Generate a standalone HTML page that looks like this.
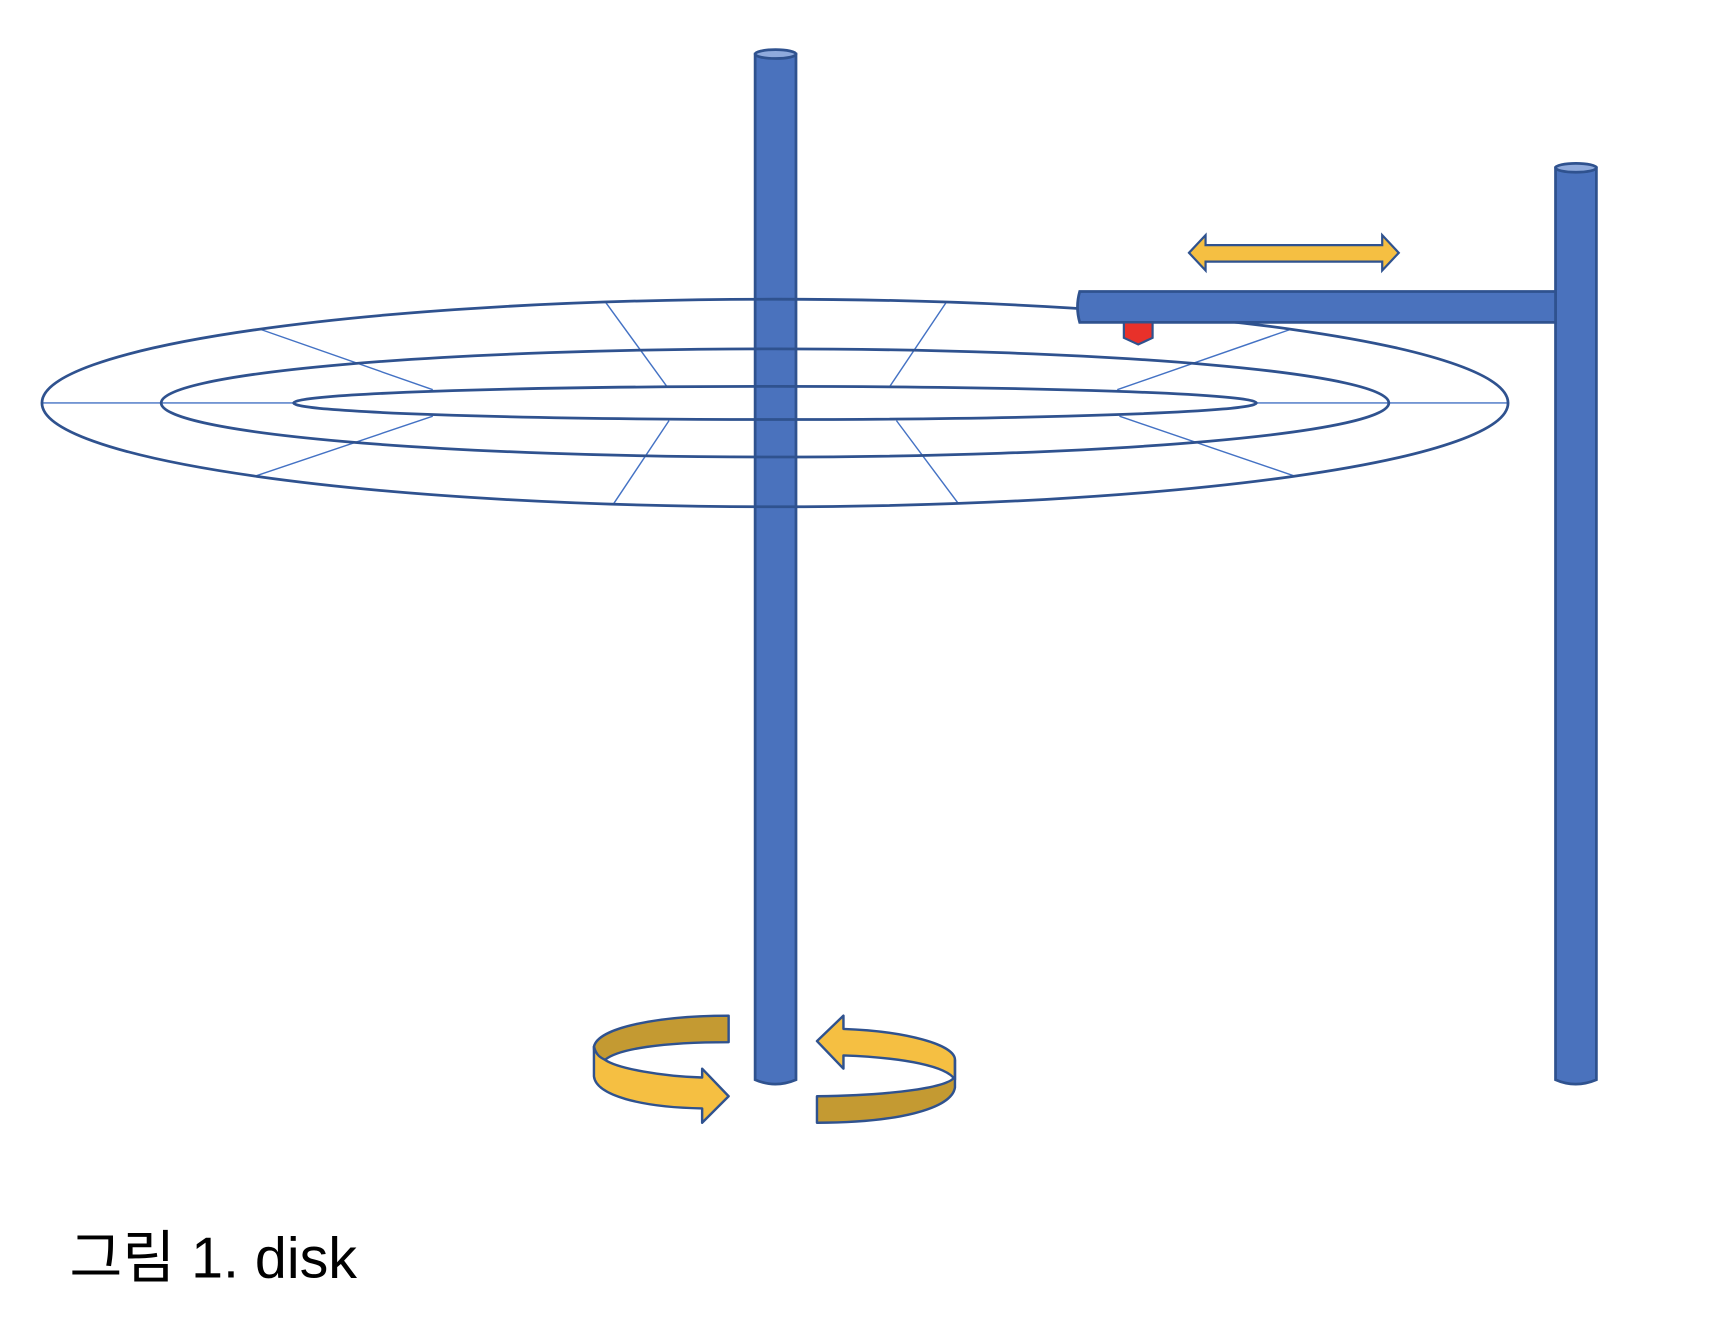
<!DOCTYPE html>
<html><head><meta charset="utf-8"><style>
html,body{margin:0;padding:0;background:#fff;width:1732px;height:1344px;overflow:hidden}
svg{display:block}
</style></head><body>
<svg width="1732" height="1344" viewBox="0 0 1732 1344" xmlns="http://www.w3.org/2000/svg">
<g transform="scale(1.104)">
  <g>
    <path d="M684,49 L684,978 Q702,986 721,978 L721,49 Z" fill="#4A72BD" stroke="#2F528F" stroke-width="2.5"/>
    <ellipse cx="702.5" cy="49" rx="18.5" ry="4" fill="#8FAADC" stroke="#2F528F" stroke-width="2.5"/>
  </g>
  <g fill="none">
    <g stroke="#4472C4" stroke-width="1.3">
      <line x1="38" y1="365" x2="266" y2="365"/>
      <line x1="1138" y1="365" x2="1366" y2="365"/>
      <line x1="235" y1="298" x2="392" y2="353"/>
      <line x1="548" y1="273" x2="604" y2="350"/>
      <line x1="857" y1="274" x2="806" y2="350"/>
      <line x1="1170" y1="298" x2="1012" y2="353"/>
      <line x1="232" y1="431" x2="392" y2="377"/>
      <line x1="556" y1="456" x2="606" y2="381"/>
      <line x1="868" y1="456" x2="812" y2="381"/>
      <line x1="1172" y1="431" x2="1014" y2="377"/>
    </g>
    <g stroke="#2F528F" stroke-width="2.5">
      <ellipse cx="702" cy="365" rx="664" ry="94"/>
      <ellipse cx="702" cy="365" rx="556" ry="49"/>
      <ellipse cx="702" cy="365" rx="436" ry="15"/>
    </g>
  </g>
  <g>
    <path d="M1409,152 L1409,978 Q1427,986 1446,978 L1446,152 Z" fill="#4A72BD" stroke="#2F528F" stroke-width="2.5"/>
    <ellipse cx="1427.5" cy="152" rx="18.5" ry="4" fill="#8FAADC" stroke="#2F528F" stroke-width="2.5"/>
  </g>
  <path d="M1409,264 L978,264 Q974,278 978,292 L1409,292 Z" fill="#4A72BD" stroke="#2F528F" stroke-width="2.5"/>
  <path d="M1018,292 L1044,292 L1044,306 L1031,312 L1018,306 Z" fill="#E8312A" stroke="#2F528F" stroke-width="2"/>
  <path d="M1077,229 L1092,213 L1092,222 L1252,222 L1252,213 L1267,229 L1252,245 L1252,237 L1092,237 L1092,245 Z" fill="#F5BF42" stroke="#2F528F" stroke-width="2"/>
  <g stroke="#2F528F" stroke-width="2.2" stroke-linejoin="round">
    <path d="M660,920 L660,944 C600,944 560,950 548,960 C540,958 538,955 538,948 C542,930 600,920 660,920 Z" fill="#C49A32"/>
    <path d="M538,948 C540,956 544,958 548,960 C560,968 600,975 636,976 L636,968 L660,993 L636,1017 L636,1004 C580,1003 540,992 538,975 Z" fill="#F5BF42"/>
  </g>
  <g stroke="#2F528F" stroke-width="2.2" stroke-linejoin="round">
    <path d="M740,943 L764,920 L764,932 C820,934 865,946 865,960 L865,978 C858,966 820,958 764,956 L764,968 Z" fill="#F5BF42"/>
    <path d="M865,960 L865,985 C862,1005 810,1017 740,1017 L740,993 C810,992 860,985 865,975 Z" fill="#C49A32"/>
  </g>
  <text x="63" y="1157" font-family="'Liberation Sans','Noto Sans CJK KR',sans-serif" font-size="52" fill="#000">그림 1. disk</text>
</g>
</svg>
</body></html>
